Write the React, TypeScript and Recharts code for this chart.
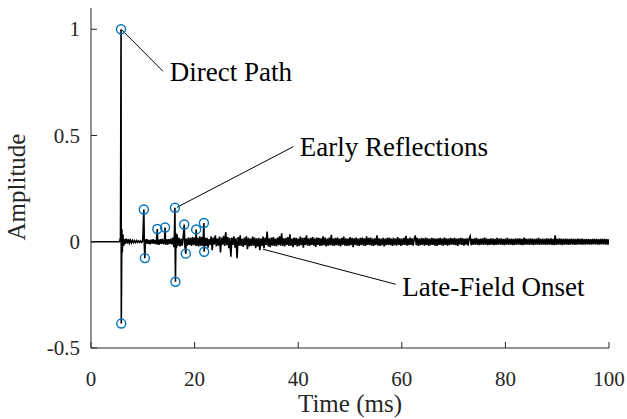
import { ComposedChart, Line, Scatter, XAxis, YAxis, ReferenceLine, ReferenceDot } from 'recharts'

// impulse response
const earlyTime = [
  0, 5.5, 5.7, 5.8, 5.85, 5.95, 6.05, 6.15, 6.3, 6.45, 6.6, 6.8, 7.0, 7.2, 7.4, 7.6, 7.8, 8.0, 8.2, 8.4, 8.6, 8.8,
  9.0, 9.2, 9.4, 9.6, 9.8, 10.0, 10.2, 10.3, 10.4, 10.5, 10.6, 10.8, 11.0, 11.2, 11.4, 11.6, 11.8, 12.0, 12.2,
  12.4, 12.6, 12.8, 12.9, 13.0, 13.2, 13.4, 13.6, 13.8, 14.0, 14.2, 14.3, 14.4, 14.6, 14.8, 15.0, 15.2, 15.4,
  15.6, 15.8, 16.0, 16.1, 16.2, 16.3, 16.4, 16.5, 16.6, 16.8, 17.0, 17.2, 17.4, 17.6, 17.8, 18.0, 18.1, 18.3,
  18.4, 18.6, 18.8, 19.0, 19.2, 19.4, 19.6, 19.8, 20.0, 20.2, 20.3, 20.4, 20.6, 20.8, 21.0, 21.2, 21.4, 21.6,
  21.8, 21.85, 22.0,
]
const earlyAmp = [
  0, 0, 0.02, 1.0, -0.385, 0.06, -0.05, 0.035, -0.02, 0.012, -0.01, 0.014, -0.008, 0.012, -0.006, 0.008, -0.005, 0.006, -0.004, 0.005, -0.004, 0.005,
  -0.003, 0.004, -0.003, 0.004, -0.003, 0.004, 0.152, -0.02, -0.077, 0.012, -0.01, 0.012, -0.01, 0.008, -0.012, 0.01, -0.008, 0.012, -0.01,
  0.008, -0.012, 0.06, -0.012, 0.01, -0.014, 0.012, -0.01, 0.014, -0.012, 0.01, 0.067, -0.014, 0.012, -0.015, 0.012, -0.01, 0.015,
  -0.012, 0.02, -0.025, 0.03, 0.16, -0.188, 0.04, -0.03, 0.035, -0.02, 0.018, -0.022, 0.015, -0.018, 0.02, 0.081, -0.015, -0.056,
  0.015, -0.018, 0.02, -0.015, 0.018, -0.02, 0.022, -0.015, 0.02, -0.018, 0.058, -0.02, 0.018, -0.022, 0.025, -0.02, 0.022, -0.018,
  0.088, -0.047, 0.02,
]

// late field, sampled every 0.2 ms from 22.2 ms to 100 ms
const lateStart = 22.2
const lateStep = 0.2
const lateAmp = [
  -0.02, 0.018, -0.028, 0.012, -0.015, 0.025, -0.04, 0.02, -0.012, 0.03, -0.022, 0.015, -0.018, 0.024, -0.05, 0.02, -0.014, 0.028, -0.02, 0.045, -0.016, 0.022, -0.03, 0.018, -0.07,
  0.02, -0.015, 0.025, -0.028, 0.016, -0.078, 0.022, -0.018, 0.03, -0.02, 0.014, -0.024, 0.02, -0.016, 0.026, -0.035, 0.018, -0.022, 0.015, -0.02, 0.024, -0.018, 0.02, -0.03, 0.016,
  -0.022, 0.018, -0.04, 0.015, -0.02, 0.024, -0.03, 0.018, -0.015, 0.048, -0.022, 0.016, -0.025, 0.02, -0.018, 0.022, -0.02, 0.015, -0.022, 0.02, -0.016, 0.025, -0.018, 0.04, -0.02,
  0.016, -0.022, 0.018, -0.015, 0.022, -0.02, 0.035, -0.018, 0.015, -0.025, 0.02, -0.016, 0.018, -0.022, 0.015, -0.02, 0.024, -0.016, 0.018, -0.028, 0.02, -0.015, 0.03, -0.018, 0.016,
  -0.02, 0.018, -0.015, 0.022, -0.018, 0.016, -0.024, 0.02, -0.015, 0.018, -0.02, 0.016, -0.018, 0.025, -0.016, 0.02, -0.022, 0.015, -0.018, 0.02, -0.016, 0.032, -0.018, 0.015, -0.02,
  0.018, -0.016, 0.02, -0.018, 0.015, -0.022, 0.018, -0.015, 0.024, -0.018, 0.016, -0.02, 0.015, -0.018, 0.022, -0.016, 0.018, -0.026, 0.016, -0.015, 0.02, -0.018, 0.015, -0.02, 0.018,
  -0.015, 0.02, -0.018, 0.016, -0.02, 0.025, -0.015, 0.018, -0.016, 0.02, -0.018, 0.015, -0.02, 0.016, -0.015, 0.03, -0.018, 0.016, -0.02, 0.015, -0.016, 0.018, -0.022, 0.015, -0.016,
  0.018, -0.015, 0.02, -0.016, 0.015, -0.02, 0.018, -0.016, 0.015, -0.018, 0.022, -0.015, 0.016, -0.02, 0.015, -0.016, 0.018, -0.015, 0.028, -0.018, 0.015, -0.016, 0.02, -0.015, 0.016,
  -0.018, 0.015, 0.03, -0.016, 0.018, -0.02, 0.015, -0.016, 0.018, -0.015, 0.016, -0.018, 0.02, -0.015, 0.016, -0.02, 0.015, -0.016, 0.018, -0.015, 0.016, -0.018, 0.015, -0.02, 0.016,
  -0.015, 0.018, -0.016, 0.015, -0.018, 0.02, -0.015, 0.016, -0.018, 0.015, -0.016, 0.018, -0.014, 0.016, -0.015, 0.018, -0.016, 0.015, -0.02, 0.016, -0.014, 0.018, -0.015, 0.016, -0.018,
  0.015, -0.014, 0.016, -0.018, 0.015, 0.026, -0.016, 0.014, -0.015, 0.016, -0.014, 0.018, -0.015, 0.014, -0.016, 0.015, -0.014, 0.016, -0.015, 0.02, -0.014, 0.015, -0.016, 0.014, -0.015,
  0.016, -0.014, 0.015, -0.016, 0.014, -0.015, 0.018, -0.014, 0.015, -0.013, 0.016, -0.015, 0.014, -0.016, 0.015, -0.014, 0.018, -0.015, 0.014, -0.013, 0.015, -0.016, 0.014, -0.015, 0.016,
  -0.014, 0.015, -0.013, 0.016, -0.015, 0.014, -0.016, 0.02, -0.014, 0.015, -0.013, 0.014, -0.015, 0.016, -0.014, 0.015, -0.016, 0.014, -0.013, 0.015, -0.014, 0.018, -0.015, 0.014, -0.013,
  0.015, -0.014, 0.013, -0.015, 0.016, -0.014, 0.015, -0.013, 0.016, -0.015, 0.014, -0.016, 0.03, -0.015, 0.014, -0.013, 0.016, -0.014, 0.015, -0.016, 0.014, -0.013, 0.015, -0.014, 0.013,
  -0.015, 0.014, -0.013, 0.015, -0.014, 0.013, -0.015, 0.014, -0.013, 0.015, -0.012, 0.014, -0.013, 0.015, -0.014, 0.012, -0.013, 0.014, -0.012, 0.013, -0.014, 0.012, -0.013, 0.014, -0.012,
  0.013, -0.012, 0.014, -0.013, 0.012, -0.013, 0.014, -0.012, 0.013, -0.012, 0.013, -0.014, 0.012, -0.013, 0.012,
]

// circled reflections
const peakTime = [5.8, 5.85, 10.2, 10.4, 12.8, 14.3, 16.2, 16.3, 18.0, 18.3, 20.3, 21.8, 21.85]
const peakAmp = [1.0, -0.385, 0.152, -0.077, 0.06, 0.067, 0.16, -0.188, 0.081, -0.056, 0.058, 0.088, -0.047]

const xTicks = [0, 20, 40, 60, 80, 100]
const yTicks = [-0.5, 0, 0.5, 1]

const FONT = '"Liberation Serif", "Times New Roman", serif'
const AXIS = '#262626'
const TICK_LEN = 6

const signal = [
  ...earlyTime.map((t, i) => ({ t, a: earlyAmp[i] })),
  ...lateAmp.map((a, i) => ({ t: +(lateStart + i * lateStep).toFixed(2), a })),
]
const peaks = peakTime.map((t, i) => ({ t, a: peakAmp[i] }))

const BottomTick = ({ x, y, payload }: any) => (
  <g>
    <line x1={x} y1={y} x2={x} y2={y - TICK_LEN} stroke={AXIS} />
    <text x={x} y={y + 38} textAnchor="middle" fontFamily={FONT} fontSize={21} fill={AXIS}>
      {payload.value}
    </text>
  </g>
)
const TopTick = ({ x, y }: any) => <line x1={x} y1={y} x2={x} y2={y + TICK_LEN} stroke={AXIS} />
const LeftTick = ({ x, y, payload }: any) => (
  <g>
    <line x1={x} y1={y} x2={x + TICK_LEN} y2={y} stroke={AXIS} />
    <text x={x - 11} y={y + 7} textAnchor="end" fontFamily={FONT} fontSize={21} fill={AXIS}>
      {payload.value}
    </text>
  </g>
)
const RightTick = ({ x, y }: any) => <line x1={x} y1={y} x2={x - TICK_LEN} y2={y} stroke={AXIS} />

const Ring = ({ cx, cy }: any) => <circle cx={cx} cy={cy} r={4.5} fill="none" stroke="#0072BD" strokeWidth={1.4} />

const note = (txt: string) => (p: any) => (
  <text x={p.cx} y={p.cy} dy="0.35em" fontFamily={FONT} fontSize={27} fill="#000">
    {txt}
  </text>
)

export default function App() {
  return (
    <div style={{ position: 'absolute', left: 0, top: 0 }}>
      <ComposedChart width={627} height={419} data={signal} margin={{ top: 8, right: 18, bottom: 0, left: 0 }}>
        <XAxis
          dataKey="t"
          type="number"
          domain={[0, 100]}
          allowDataOverflow
          ticks={xTicks}
          height={71}
          tickSize={0}
          tickMargin={0}
          tick={<BottomTick />}
          stroke={AXIS}
          label={{
            content: ({ viewBox }: any) => (
              <text x={viewBox.x + viewBox.width / 2} y={viewBox.y + 64} textAnchor="middle" fontFamily={FONT} fontSize={25} fill={AXIS}>
                Time (ms)
              </text>
            ),
          }}
        />
        <XAxis xAxisId="top" orientation="top" type="number" domain={[0, 100]} ticks={xTicks} height={0} tickSize={0} tickMargin={0} tick={<TopTick />} stroke={AXIS} />
        <YAxis
          type="number"
          domain={[-0.5, 1.1]}
          ticks={yTicks}
          allowDataOverflow
          width={91}
          tickSize={0}
          tickMargin={0}
          tick={<LeftTick />}
          stroke={AXIS}
          label={{
            content: () => (
              <text x={25} y={187} transform="rotate(-90, 25, 187)" textAnchor="middle" fontFamily={FONT} fontSize={25} fill={AXIS}>
                Amplitude
              </text>
            ),
          }}
        />
        <YAxis yAxisId="right" orientation="right" type="number" domain={[-0.5, 1.1]} ticks={yTicks} width={0} tickSize={0} tickMargin={0} tick={<RightTick />} stroke={AXIS} />

        <Line dataKey="a" type="linear" stroke="#000" strokeWidth={1.6} dot={false} isAnimationActive={false} />
        <Scatter data={peaks} dataKey="a" shape={<Ring />} isAnimationActive={false} />

        <ReferenceLine segment={[{ x: 5.9, y: 0.998 }, { x: 13.9, y: 0.802 }]} stroke="#000" strokeWidth={1} ifOverflow="visible" />
        <ReferenceLine segment={[{ x: 16.6, y: 0.162 }, { x: 39.1, y: 0.448 }]} stroke="#000" strokeWidth={1} ifOverflow="visible" />
        <ReferenceLine segment={[{ x: 33.2, y: -0.035 }, { x: 58.8, y: -0.2 }]} stroke="#000" strokeWidth={1} ifOverflow="visible" />
        <ReferenceDot x={15.2} y={0.8} r={0} ifOverflow="visible" shape={note('Direct Path')} />
        <ReferenceDot x={40.3} y={0.446} r={0} ifOverflow="visible" shape={note('Early Reflections')} />
        <ReferenceDot x={60.1} y={-0.212} r={0} ifOverflow="visible" shape={note('Late-Field Onset')} />
      </ComposedChart>
    </div>
  )
}
